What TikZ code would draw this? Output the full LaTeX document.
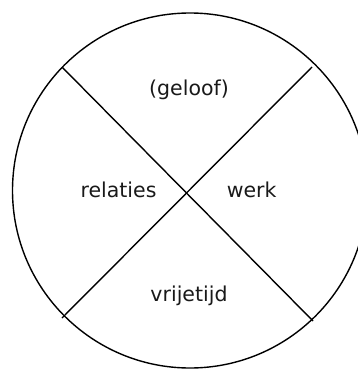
\documentclass[tikz,border=0pt]{standalone}
\usepackage{fontspec}
\setmainfont{DejaVu Sans}
\begin{document}
\begin{tikzpicture}[x=1pt,y=-1pt,
  ring/.style={draw=black,line width=1.4pt,circle,minimum size=355pt,inner sep=0pt},
  divider/.style={draw=black,line width=1.4pt},
  lbl/.style={font=\fontsize{20.5}{24}\selectfont,text=black!90,anchor=base,inner sep=0pt}]
\useasboundingbox (0,0) rectangle (357,369);
\node[ring] (c) at (190,190.5) {};
\coordinate (tl) at (62,67);
\coordinate (tr) at (312,67);
\coordinate (bl) at (62,318);
\coordinate (br) at (313,321);
\draw[divider] (tl) -- (br);
\draw[divider] (tr) -- (bl);
\node[lbl] (geloof) at (189,95) {(geloof)};
\node[lbl] (relaties) at (118.5,197.7) {relaties};
\node[lbl] (werk) at (251.7,197.7) {werk};
\node[lbl] (vrijetijd) at (189,301.7) {vrijetijd};
\end{tikzpicture}
\end{document}
